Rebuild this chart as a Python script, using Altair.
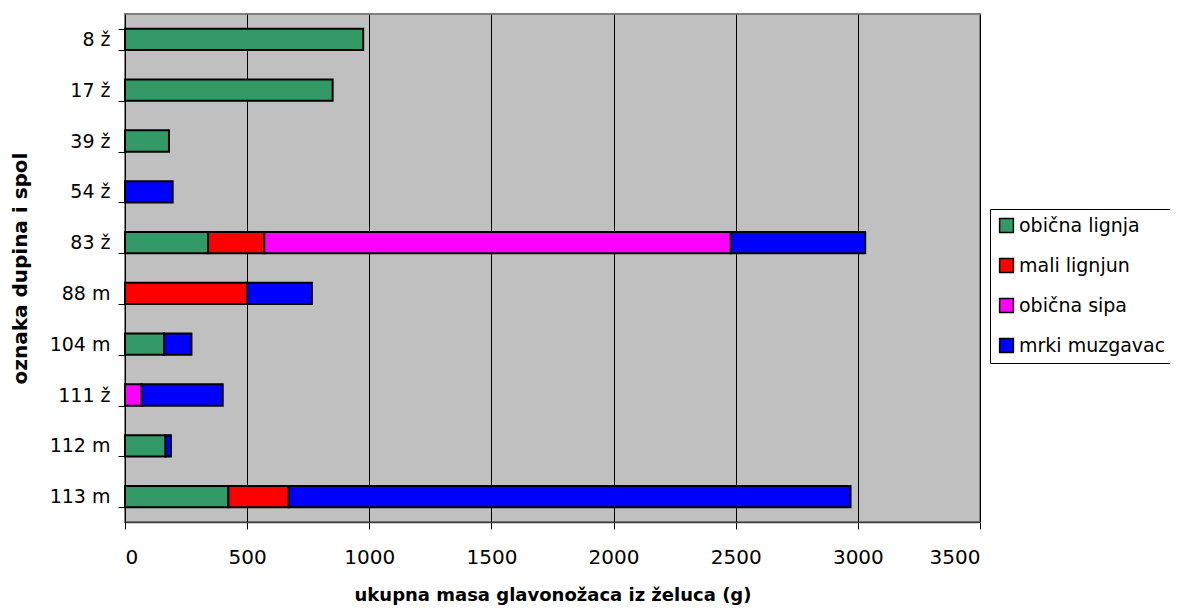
import altair as alt
import pandas as pd

categories = ["8 ž", "17 ž", "39 ž", "54 ž", "83 ž", "88 m", "104 m", "111 ž", "112 m", "113 m"]
series = ["obična lignja", "mali lignjun", "obična sipa", "mrki muzgavac"]
colors = ["#339966", "#FF0000", "#FF00FF", "#0000FF"]

obicna_lignja = [975, 850, 180, 0, 340, 0, 160, 0, 166, 423]
mali_lignjun = [0, 0, 0, 0, 230, 500, 0, 0, 0, 247]
obicna_sipa = [0, 0, 0, 0, 1910, 0, 0, 68, 0, 0]
mrki_muzgavac = [0, 0, 0, 195, 550, 265, 112, 332, 22, 2300]
x_ticks = [0, 500, 1000, 1500, 2000, 2500, 3000, 3500]

rows = []
for vals, s, o in zip([obicna_lignja, mali_lignjun, obicna_sipa, mrki_muzgavac], series, range(4)):
    for c, v in zip(categories, vals):
        if v > 0:
            rows.append({"cat": c, "series": s, "value": v, "ord": o})
df = pd.DataFrame(rows)

FONT = "DejaVu Sans"

chart = alt.Chart(df).mark_bar(stroke="black", strokeWidth=2).encode(
    y=alt.Y("cat:N", sort=categories,
            scale=alt.Scale(paddingInner=0.58, paddingOuter=0.29),
            axis=alt.Axis(title="oznaka dupina i spol", titleFontSize=20, titleFont=FONT,
                          titleFontWeight="bold", titleColor="black",
                          titleX=-105, titleBaseline="middle",
                          labelFont=FONT, labelFontSize=19, labelColor="black", labelPadding=8,
                          tickBand="extent", tickColor="black", tickSize=7,
                          domainColor="black", grid=False)),
    x=alt.X("value:Q", stack="zero",
            scale=alt.Scale(domain=[0, 3500], nice=False),
            axis=alt.Axis(title="ukupna masa glavonožaca iz želuca (g)", values=x_ticks, format="d",
                          titleFontSize=18, titleFont=FONT, titleFontWeight="bold", titleColor="black",
                          titlePadding=19,
                          labelFont=FONT, labelFontSize=20, labelColor="black", labelPadding=18,
                          tickColor="black", tickSize=7, domainColor="#404040", domainWidth=1.5,
                          grid=True, gridColor="black", gridWidth=1)),
    color=alt.Color("series:N", sort=series,
                    scale=alt.Scale(domain=series, range=colors),
                    legend=alt.Legend(title=None, orient="none", legendX=865, legendY=195,
                                      symbolType="square", symbolSize=190, symbolStrokeColor="black",
                                      symbolStrokeWidth=1.5, symbolOpacity=1,
                                      labelFont=FONT, labelFontSize=19, labelColor="black",
                                      labelOffset=3, rowPadding=19,
                                      strokeColor="black", padding=7, fillColor="white")),
    order=alt.Order("ord:Q"),
).properties(
    width=855, height=508,
    background="white",
    autosize=alt.AutoSizeParams(type="none"),
    padding={"left": 117, "top": 6, "right": 190, "bottom": 83},
).configure_view(
    fill="#C0C0C0", stroke="#808080", strokeWidth=2
)

chart.save("out.html", embed_options={"renderer": "svg", "actions": False})
